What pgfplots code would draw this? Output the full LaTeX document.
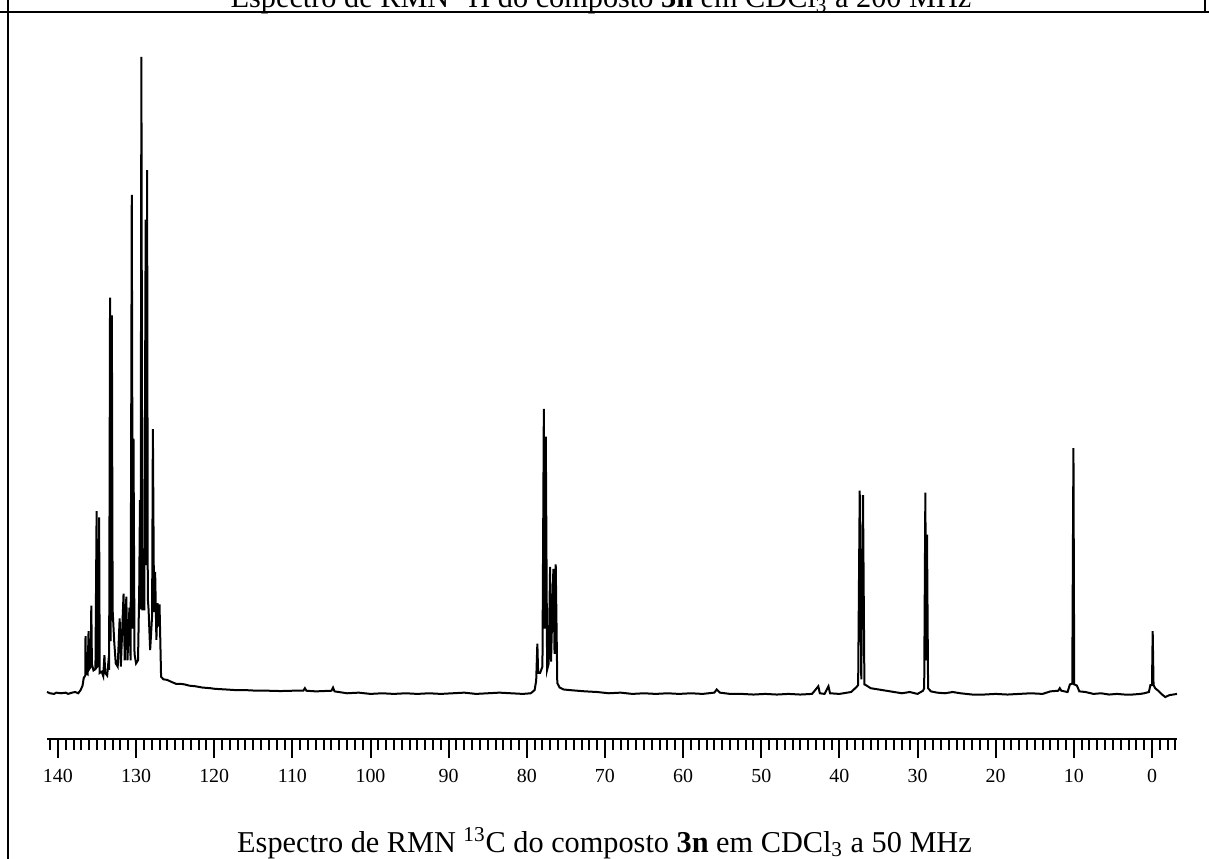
\documentclass[border=0pt]{standalone}
\usepackage{pgfplots}
\pgfplotsset{compat=1.18}
\usepackage{fontspec}
\setmainfont{Liberation Serif}

% 13C spectrum, ppm vs. relative intensity (tallest line = 100)
\pgfplotstableread{
ppm I
141.4 0.0
141.0 -0.2
140.5 -0.3
140.2 -0.1
139.6 -0.2
139.0 -0.1
138.7 -0.3
138.2 -0.1
137.8 0.0
137.4 -0.2
137.1 0.3
136.85 1.0
136.7 2.2
136.5 2.6
136.47 8.8
136.4 3.0
136.2 2.8
136.08 9.6
136.0 3.6
135.8 4.0
135.73 13.6
135.65 4.4
135.45 3.4
135.2 3.6
135.05 28.5
134.95 4.0
134.8 4.2
134.73 27.5
134.65 3.0
134.4 3.2
134.2 2.5
134.05 5.8
133.95 3.0
133.7 2.6
133.55 4.6
133.45 3.5
133.33 62.1
133.25 8.0
133.1 59.3
133.0 12.9
132.8 8.0
132.6 4.5
132.35 4.0
132.1 11.6
131.95 4.0
131.6 15.5
131.45 5.0
131.25 15.0
131.1 5.0
130.85 13.3
130.7 5.0
130.55 78.3
130.42 10.0
130.33 39.9
130.2 6.0
130.0 4.5
129.75 5.0
129.6 15.8
129.5 30.2
129.42 13.0
129.32 100
129.2 13.0
128.95 13.0
128.77 74.4
128.68 20.0
128.59 82.2
128.5 14.8
128.4 13.0
128.2 6.6
127.95 12.0
127.85 41.4
127.7 12.6
127.56 18.9
127.4 8.2
127.26 14.0
127.13 10.3
127.0 13.8
126.9 8.2
126.8 2.4
126.5 2.0
126.0 1.9
125.5 1.6
124.9 1.3
124.4 1.3
123.8 1.2
123.2 1.0
122.4 0.9
121.5 0.7
120.5 0.6
119.9 0.5
118.5 0.4
117.3 0.3
116.0 0.3
114.5 0.2
113.0 0.2
111.5 0.15
110.0 0.2
108.6 0.2
108.4 0.6
108.2 0.2
107.0 0.1
105.0 0.2
104.8 0.7
104.6 0.1
103.0 -0.2
101.5 -0.1
100.0 -0.3
98.5 -0.2
97.0 -0.3
95.5 -0.2
94.0 -0.3
92.5 -0.2
91.0 -0.3
89.5 -0.2
88.0 -0.1
86.5 -0.3
85.0 -0.2
83.5 -0.1
82.0 -0.2
80.5 -0.3
79.5 -0.2
79.0 0.3
78.8 1.8
78.65 7.6
78.55 3.0
78.3 3.0
78.0 4.0
77.82 44.6
77.7 10.0
77.57 40.2
77.4 3.5
77.2 4.5
77.02 19.7
76.9 4.8
76.6 19.4
76.45 6.0
76.3 20.1
76.1 1.4
75.8 0.7
75.3 0.4
74.5 0.3
73.5 0.2
72.5 0.1
71.0 0.0
69.5 -0.2
68.0 -0.1
66.5 -0.3
65.0 -0.2
63.5 -0.3
62.0 -0.2
60.5 -0.3
59.0 -0.2
57.5 -0.3
56.0 -0.1
55.7 0.4
55.3 -0.1
54.0 -0.3
52.5 -0.3
51.0 -0.4
49.5 -0.3
48.0 -0.4
46.5 -0.3
45.0 -0.4
43.5 -0.3
42.7 0.9
42.5 -0.2
41.9 -0.3
41.4 0.9
41.2 -0.2
40.0 -0.3
38.5 0.0
37.8 0.8
37.6 1.1
37.4 31.7
37.2 2.0
36.98 31.0
36.8 1.2
36.5 1.0
36.0 0.6
35.0 0.4
34.0 0.2
33.0 0.0
32.0 -0.2
31.0 0.0
30.0 -0.3
29.3 0.2
29.15 0.6
29.0 31.4
28.9 5.0
28.79 24.8
28.65 0.6
28.3 0.1
27.5 -0.1
26.5 -0.2
25.5 0.0
24.5 -0.2
23.0 -0.4
21.5 -0.4
20.0 -0.3
18.5 -0.4
17.0 -0.3
15.5 -0.2
14.0 -0.3
13.0 0.1
12.0 0.2
11.8 0.6
11.6 0.2
10.8 0.0
10.5 1.2
10.2 1.3
10.12 22.0
10.05 38.4
9.95 1.2
9.6 1.0
9.3 0.1
8.5 0.0
7.5 -0.3
6.5 -0.2
5.5 -0.4
4.5 -0.3
3.5 -0.4
2.5 -0.4
1.5 -0.3
1.0 -0.2
0.4 0.0
0.2 1.1
0.0 1.1
-0.09 9.6
-0.2 1.1
-0.4 0.6
-0.8 0.2
-1.2 -0.3
-1.7 -0.8
-2.2 -0.5
-2.7 -0.4
-3.2 -0.3
}\spectrum

\begin{document}
\begin{tikzpicture}
\path[use as bounding box, clip] (0bp,0bp) rectangle (604.5bp,429.5bp);

% table frame
\draw[line width=1bp] (0bp,423.5bp) -- (604.5bp,423.5bp);
\draw[line width=1bp] (4bp,0bp) -- (4bp,429.5bp);
\draw[line width=1bp] (602.5bp,423.5bp) -- (602.5bp,429.5bp);

% caption of the cell above, cut off by the crop
\node[anchor=base, inner sep=0pt, font=\fontsize{15.2}{15.2}\selectfont] at (300.5bp,425.5bp)
  {Espectro de RMN \textsuperscript{1}H do composto \textbf{3n} em CDCl\textsubscript{3} a 200 MHz};

\begin{axis}[
    at={(23.5bp,60bp)}, anchor=south west,
    scale only axis, width=565bp, height=341bp,
    xmin=-3.2, xmax=141.4, ymin=-7.4, ymax=100,
    x dir=reverse,
    axis x line*=bottom, axis y line=none,
    tick align=outside,
    xtick={0,10,...,140},
    minor xtick={-3,-2,...,141},
    major tick length=9.5bp, minor tick length=5.5bp,
    every tick/.style={black, line width=1bp},
    axis line style={line width=1bp},
    /pgf/number format/assume math mode=true,
    xticklabel style={font=\fontsize{10}{10}\selectfont, yshift=-2bp},
    clip=false
]
\addplot[black, line width=1bp] table[x=ppm, y=I] {\spectrum};
\end{axis}

\node[anchor=base, inner sep=0pt, font=\fontsize{15.2}{15.2}\selectfont] at (302.25bp,3.5bp)
  {Espectro de RMN \textsuperscript{13}C do composto \textbf{3n} em CDCl\textsubscript{3} a 50 MHz};
\end{tikzpicture}
\end{document}
